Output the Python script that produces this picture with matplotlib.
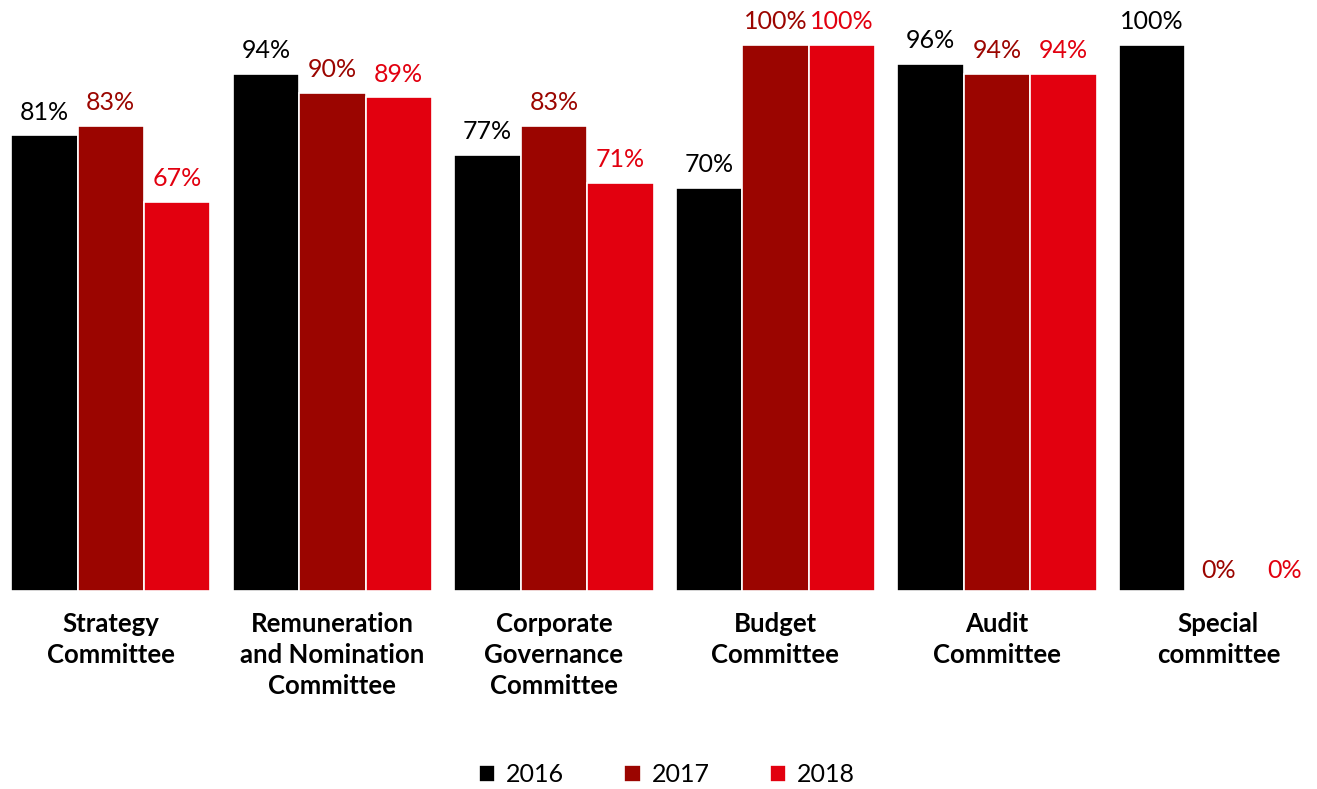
import matplotlib.pyplot as plt
import numpy as np

categories = ["Strategy\nCommittee", "Remuneration\nand Nomination\nCommittee",
              "Corporate\nGovernance\nCommittee", "Budget\nCommittee",
              "Audit\nCommittee", "Special\ncommittee"]
years = ["2016", "2017", "2018"]
# label values
v2016 = [81, 94, 77, 70, 96, 100]
v2017 = [83, 90, 83, 100, 94, 0]
v2018 = [67, 89, 71, 100, 94, 0]
colors = ["#000000", "#9b0500", "#e2000f"]

# the source chart's value axis does not start at zero
AXIS_MIN = -14.7


def main():
    plt.rcParams['font.family'] = ['Lato', 'DejaVu Sans']
    fig = plt.figure(figsize=(13.17, 7.89), dpi=100)
    ax = fig.add_axes([0, 0.2513, 1, 0.7217])

    x = np.arange(len(categories))
    w = 0.3
    for k, (vals, col, yr) in enumerate(zip([v2016, v2017, v2018], colors, years)):
        pos = x + (k - 1) * w
        vals = np.array(vals, dtype=float)
        heights = np.where(vals > 0, vals - AXIS_MIN, 0)
        ax.bar(pos, heights, w, bottom=AXIS_MIN, color=col, edgecolor='white',
               linewidth=1.2, label=yr)
        for p, v in zip(pos, vals):
            top = v if v > 0 else AXIS_MIN
            off = 8.5 if v > 0 else 6
            ax.annotate(f"{v:.0f}%", (p, top), xytext=(0, off), textcoords='offset points',
                        ha='center', va='bottom', fontsize=18, color=col)

    ax.set_xlim(-0.50, 5.445)
    ax.set_ylim(AXIS_MIN, 105)
    ax.set_xticks(x)
    ax.set_xticklabels(categories, fontsize=18.5, fontweight='bold', linespacing=1.36)
    ax.tick_params(axis='x', length=0, pad=15)
    ax.set_yticks([])
    for s in ax.spines.values():
        s.set_visible(False)

    fig.legend(loc='center', bbox_to_anchor=(0.5065, 0.018), ncol=3, frameon=False,
               fontsize=18, handlelength=0.65, handleheight=0.65, columnspacing=2.4,
               handletextpad=0.45)
    fig.savefig("out.png", dpi=100)


if __name__ == '__main__':
    main()
